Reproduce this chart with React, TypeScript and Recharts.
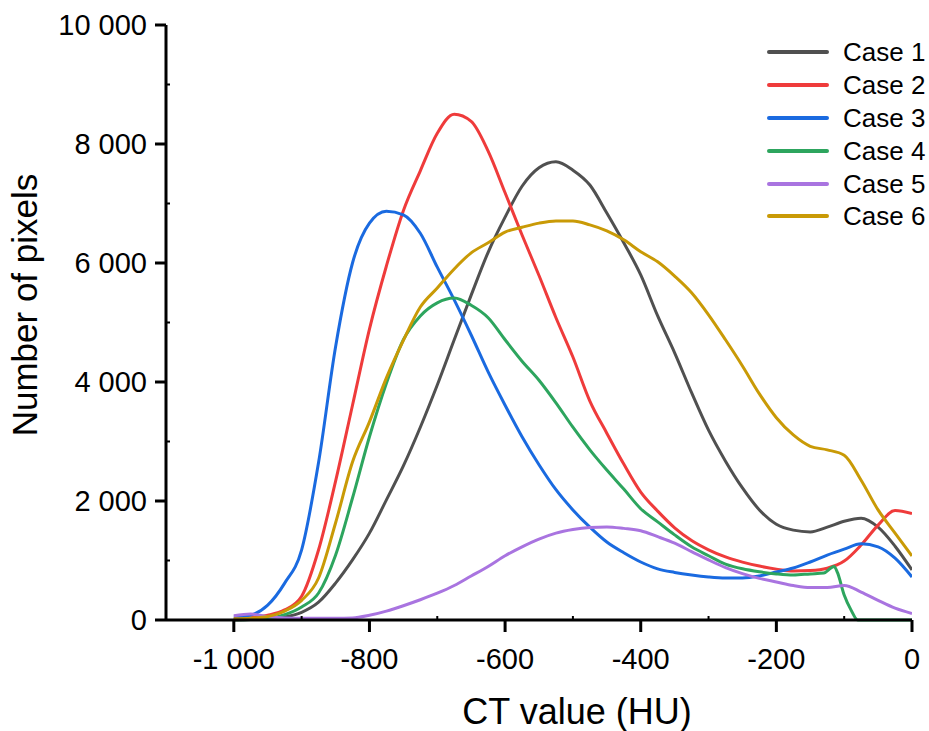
import React from 'react';
import { LineChart, Line, XAxis, YAxis, Legend } from 'recharts';

const FONT = '"Liberation Sans", Arial, Helvetica, sans-serif';

const ctValues = [-1000, -975, -950, -925, -900, -875, -850, -825, -800, -775, -750, -725, -700, -675, -650, -625, -600, -575, -550, -525, -500, -475, -450, -425, -400, -375, -350, -325, -300, -275, -250, -225, -200, -175, -150, -125, -100, -75, -50, -25, 0];

const case1 = [0, 10, 20, 50, 130, 300, 620, 1010, 1460, 2020, 2590, 3240, 3950, 4710, 5460, 6180, 6770, 7290, 7600, 7700, 7560, 7310, 6840, 6340, 5800, 5110, 4490, 3820, 3190, 2670, 2220, 1850, 1610, 1510, 1480, 1560, 1660, 1710, 1560, 1240, 840];
const case2 = [20, 40, 80, 170, 400, 1180, 2330, 3610, 4890, 5950, 6880, 7550, 8180, 8500, 8380, 7880, 7180, 6470, 5790, 5080, 4420, 3680, 3140, 2620, 2150, 1830, 1550, 1336, 1180, 1060, 973, 906, 855, 822, 830, 870, 990, 1260, 1595, 1840, 1790];
const case3 = [50, 84, 250, 620, 1180, 2650, 4590, 6000, 6670, 6870, 6810, 6500, 5930, 5380, 4790, 4170, 3610, 3080, 2610, 2190, 1850, 1560, 1310, 1130, 975, 860, 800, 756, 723, 706, 706, 740, 807, 874, 975, 1090, 1190, 1280, 1230, 1040, 723];
const case5 = [70, 100, 60, 35, 30, 30, 30, 35, 80, 150, 240, 340, 450, 580, 740, 900, 1080, 1230, 1360, 1460, 1520, 1555, 1565, 1540, 1500, 1400, 1290, 1150, 1010, 880, 780, 700, 640, 580, 545, 545, 580, 470, 330, 200, 110];
const case6 = [20, 30, 60, 150, 330, 706, 1630, 2655, 3330, 4070, 4700, 5260, 5580, 5900, 6170, 6340, 6520, 6600, 6670, 6706, 6706, 6640, 6540, 6390, 6190, 6020, 5780, 5500, 5130, 4710, 4270, 3800, 3400, 3110, 2920, 2860, 2770, 2350, 1850, 1460, 1076];

const ctCase4 = [-1000, -975, -950, -925, -900, -875, -850, -825, -800, -775, -750, -725, -700, -675, -650, -625, -600, -575, -550, -525, -500, -475, -450, -425, -400, -375, -350, -325, -300, -275, -250, -225, -200, -175, -150, -130, -120, -115, -110, -100, -90, -80, -50, -25, 0];
const case4 = [5, 10, 25, 90, 220, 454, 1090, 2050, 3080, 3980, 4710, 5110, 5330, 5410, 5290, 5080, 4710, 4350, 4030, 3650, 3240, 2860, 2520, 2200, 1870, 1650, 1430, 1230, 1080, 940, 860, 810, 775, 756, 775, 790, 870, 900, 800, 420, 170, 0, 0, 0, 0];

const seriesNames = ['Case 1', 'Case 2', 'Case 3', 'Case 4', 'Case 5', 'Case 6'];
const seriesColors = ['#505050', '#ef3b3b', '#1a6ae0', '#2da55e', '#a974e0', '#c99a06'];

const xTicks = [-1000, -900, -800, -700, -600, -500, -400, -300, -200, -100, 0];
const yTicks = [0, 1000, 2000, 3000, 4000, 5000, 6000, 7000, 8000, 9000, 10000];

const toData = (xs: number[], ys: number[]) => xs.map((x, i) => ({ ct: x, v: ys[i] }));
const seriesData = [
  toData(ctValues, case1),
  toData(ctValues, case2),
  toData(ctValues, case3),
  toData(ctCase4, case4),
  toData(ctValues, case5),
  toData(ctValues, case6),
];

const fmt = (v: number) => {
  const s = Math.abs(v).toString().replace(/\B(?=(\d{3})+(?!\d))/g, ' ');
  return (v < 0 ? '-' : '') + s;
};

const X_TICK = 12;
const X_GAP = 16;
const Y_TICK = 11;
const Y_GAP = 8;

const XTick = (p: any) => {
  const v = p.payload.value;
  const axisY = p.y - X_TICK - X_GAP;
  if (v % 200 !== 0) {
    return <line x1={p.x} x2={p.x} y1={axisY} y2={axisY - 4} stroke="#000" strokeWidth={2} />;
  }
  return (
    <g>
      <line x1={p.x} x2={p.x} y1={axisY} y2={axisY + X_TICK} stroke="#000" strokeWidth={3} />
      <text x={p.x} y={p.y} dy="0.71em" textAnchor="middle" fontSize={29} fontFamily={FONT} fill="#000">
        {fmt(v)}
      </text>
    </g>
  );
};

const YTick = (p: any) => {
  const v = p.payload.value;
  const axisX = p.x + Y_TICK + Y_GAP;
  if (v % 2000 !== 0) {
    return <line x1={axisX} x2={axisX + 4} y1={p.y} y2={p.y} stroke="#000" strokeWidth={2} />;
  }
  return (
    <g>
      <line x1={axisX - Y_TICK} x2={axisX} y1={p.y} y2={p.y} stroke="#000" strokeWidth={3} />
      <text x={p.x} y={p.y} dy="0.355em" textAnchor="end" fontSize={29} fontFamily={FONT} fill="#000">
        {fmt(v)}
      </text>
    </g>
  );
};

const LegendBox = () => (
  <div style={{ fontFamily: FONT, fontSize: 26, color: '#000' }}>
    {seriesNames.map((n, i) => (
      <div key={n} style={{ height: 32.8, display: 'flex', alignItems: 'center', whiteSpace: 'nowrap' }}>
        <svg width={62} height={8} style={{ display: 'block' }}>
          <line x1={2} y1={4} x2={60} y2={4} stroke={seriesColors[i]} strokeWidth={4} strokeLinecap="round" />
        </svg>
        <span style={{ marginLeft: 14, lineHeight: 1 }}>{n}</span>
      </div>
    ))}
  </div>
);

const axisStroke = { stroke: '#000', strokeWidth: 3 };

export default function App() {
  return (
    <div style={{ position: 'absolute', left: 0, top: 0, width: 929, height: 731, overflow: 'hidden', background: '#fff' }}>
      <LineChart width={929} height={731} margin={{ top: 25, right: 17, bottom: 0, left: 0 }}>
        <XAxis
          dataKey="ct"
          type="number"
          domain={[-1100, 0]}
          allowDataOverflow
          ticks={xTicks}
          interval={0}
          height={111}
          tickSize={X_TICK}
          tickMargin={X_GAP}
          axisLine={axisStroke}
          tickLine={false}
          tick={<XTick />}
          label={{
            value: 'CT value (HU)',
            content: () => (
              <text x={577} y={724} textAnchor="middle" fontSize={36} fontFamily={FONT} fill="#000">
                CT value (HU)
              </text>
            ),
          }}
        />
        <YAxis
          type="number"
          domain={[0, 10000]}
          ticks={yTicks}
          interval={0}
          width={166}
          tickSize={Y_TICK}
          tickMargin={Y_GAP}
          axisLine={axisStroke}
          tickLine={false}
          tick={<YTick />}
          label={{
            value: 'Number of pixels',
            content: () => (
              <text x={37} y={305} transform="rotate(-90, 37, 305)" textAnchor="middle" fontSize={35} fontFamily={FONT} fill="#000">
                Number of pixels
              </text>
            ),
          }}
        />
        <Legend
          layout="vertical"
          align="center"
          verticalAlign="middle"
          wrapperStyle={{ left: 767, top: 36, width: 200 }}
          content={() => <LegendBox />}
        />
        {seriesData.map((d, i) => (
          <Line
            key={seriesNames[i]}
            data={d}
            dataKey="v"
            name={seriesNames[i]}
            type="monotone"
            stroke={seriesColors[i]}
            strokeWidth={3}
            dot={false}
            activeDot={false}
            isAnimationActive={false}
          />
        ))}
      </LineChart>
    </div>
  );
}
